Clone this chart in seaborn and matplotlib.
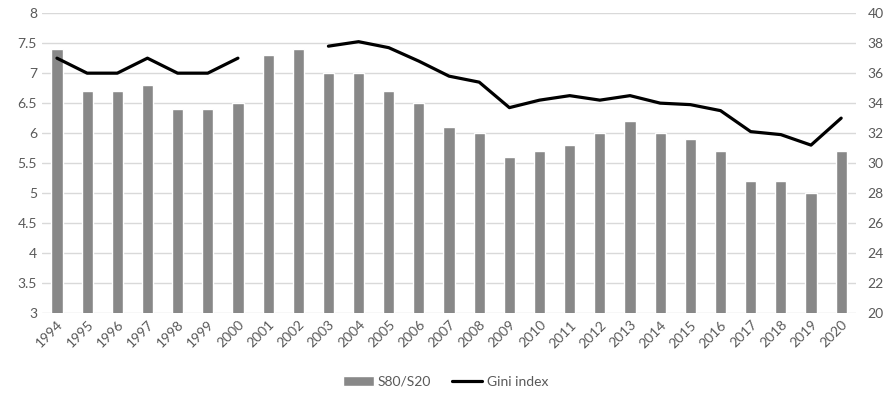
import numpy as np
import pandas as pd
import matplotlib
matplotlib.use("Agg")
import matplotlib.pyplot as plt
import seaborn as sns
from matplotlib.patches import Patch
from matplotlib.lines import Line2D

years = [str(y) for y in range(1994, 2021)]
s80_s20 = [7.4, 6.7, 6.7, 6.8, 6.4, 6.4, 6.5, 7.3, 7.4, 7.0, 7.0, 6.7, 6.5, 6.1,
           6.0, 5.6, 5.7, 5.8, 6.0, 6.2, 6.0, 5.9, 5.7, 5.2, 5.2, 5.0, 5.7]
gini = [37.0, 36.0, 36.0, 37.0, 36.0, 36.0, 37.0, np.nan, np.nan, 37.8, 38.1, 37.7,
        36.8, 35.8, 35.4, 33.7, 34.2, 34.5, 34.2, 34.5, 34.0, 33.9, 33.5, 32.1,
        31.9, 31.2, 33.0]

sns.set_style("white")
plt.rcParams["font.family"] = ["Lato", "DejaVu Sans"]

df = pd.DataFrame({"year": years, "s80": s80_s20, "gini": gini})
df["pos"] = np.arange(len(df))
# break the line where Gini is missing
df["segment"] = df["gini"].isna().cumsum()
line_df = df.dropna(subset=["gini"])

fig, ax = plt.subplots(figsize=(8.91, 4.0), dpi=100)
fig.subplots_adjust(left=0.047, right=0.961, top=0.967, bottom=0.2175)

txt = "#595959"
sns.barplot(data=df, x="year", y="s80", color="#888888", saturation=1,
            width=0.37, ax=ax, zorder=2)
ax.set_ylim(3, 8)
ax.set_yticks(np.arange(3, 8.01, 0.5))
ax.set_yticklabels([f"{v:g}" for v in np.arange(3, 8.01, 0.5)])
ax.yaxis.grid(True, color="#d9d9d9", linewidth=1)
ax.set_axisbelow(True)
ax.set_xlabel("")
ax.set_ylabel("")
ax.set_xlim(-0.5, len(years) - 0.5)
plt.setp(ax.get_xticklabels(), rotation=45, ha="right", rotation_mode="anchor")
ax.tick_params(axis="both", length=0, labelsize=10, colors=txt)
ax.tick_params(axis="x", pad=4)

ax2 = ax.twinx()
sns.lineplot(data=line_df, x="pos", y="gini", units="segment", estimator=None,
             color="black", linewidth=2.3, ax=ax2)
ax2.set_ylim(20, 40)
ax2.set_yticks(np.arange(20, 41, 2))
ax2.set_ylabel("")
ax2.tick_params(axis="y", length=0, labelsize=10, colors=txt, pad=8)
ax.set_xlim(-0.5, len(years) - 0.5)

for a in (ax, ax2):
    for s in a.spines.values():
        s.set_visible(False)

handles = [Patch(facecolor="#888888", label="S80/S20"),
           Line2D([0], [0], color="black", linewidth=2.3, label="Gini index")]
fig.legend(handles=handles, loc="lower center", ncol=2, frameon=False,
           bbox_to_anchor=(0.5, 0.0), fontsize=10, labelcolor=txt,
           handlelength=2.2, columnspacing=1.5, handletextpad=0.3)

fig.savefig("out.png", dpi=100)
